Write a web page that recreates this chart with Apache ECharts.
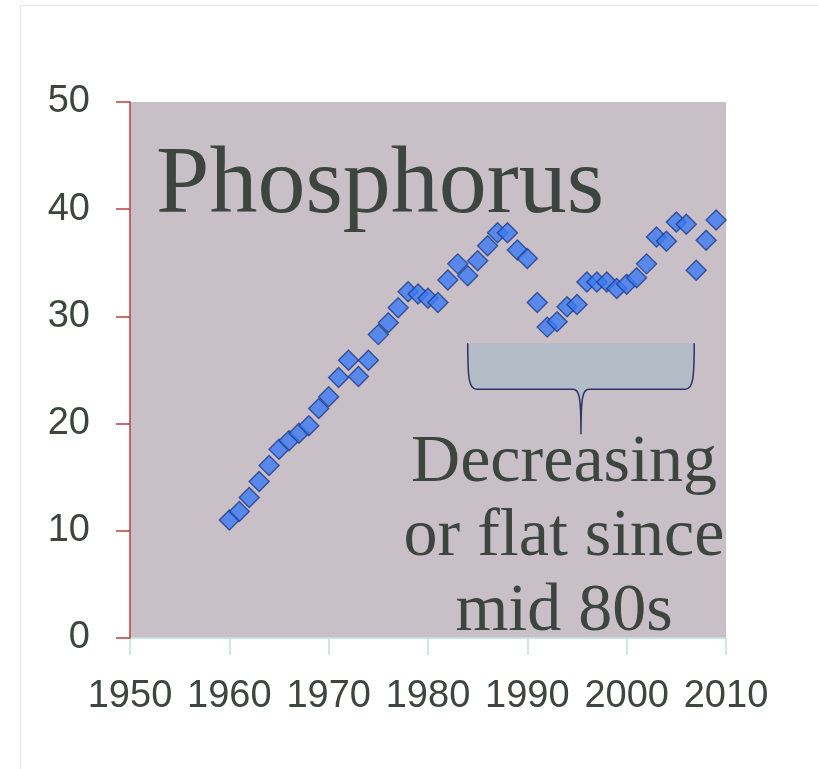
<!DOCTYPE html>
<html>
<head>
<meta charset="utf-8">
<script src="https://cdn.jsdelivr.net/npm/echarts@6/dist/echarts.min.js"></script>
<style>
  html, body { margin: 0; padding: 0; background: #fff; }
  #main { width: 818px; height: 769px; }
</style>
</head>
<body>
<div id="main"></div>
<script>
// yearly values
var years = [1960, 1961, 1962, 1963, 1964, 1965, 1966, 1967, 1968, 1969,
             1970, 1971, 1972, 1973, 1974, 1975, 1976, 1977, 1978, 1979,
             1980, 1981, 1982, 1983, 1984, 1985, 1986, 1987, 1988, 1989,
             1990, 1991, 1992, 1993, 1994, 1995, 1996, 1997, 1998, 1999,
             2000, 2001, 2002, 2003, 2004, 2005, 2006, 2007, 2008, 2009];
var phosphorus = [11.0, 11.8, 13.1, 14.6, 16.1, 17.6, 18.4, 19.1, 19.8, 21.4,
                  22.5, 24.3, 25.9, 24.4, 25.9, 28.3, 29.4, 30.8, 32.3, 32.1,
                  31.7, 31.3, 33.4, 34.9, 33.8, 35.2, 36.6, 37.8, 37.8, 36.2,
                  35.4, 31.3, 29.0, 29.5, 30.9, 31.1, 33.2, 33.2, 33.2, 32.6,
                  33.0, 33.6, 34.9, 37.4, 37.0, 38.8, 38.6, 34.3, 37.1, 39.0];
var xTicks = [1950, 2010, 10];
var yTicks = [0, 50, 10];
var titleText = 'Phosphorus';
var noteLines = ['Decreasing', 'or flat since', 'mid 80s'];
// brace under the late points: [x0, x1, top, boxBottom, tip]
var brace = [1984.0, 2006.8, 27.5, 23.2, 19.0];

var points = years.map(function (y, i) { return [y, phosphorus[i]]; });

var labelFont = '"Liberation Sans", Arial, sans-serif';
var serifFont = '"Liberation Serif", "Times New Roman", serif';
var textColor = '#3c463f';

function braceItem(params, api) {
  var tl = api.coord([api.value(0), api.value(2)]);
  var br = api.coord([api.value(1), api.value(3)]);
  var tp = api.coord([(api.value(0) + api.value(1)) / 2, api.value(4)]);
  var L = tl[0], R = br[0], T = tl[1], B = br[1], C = tp[0], P = tp[1];
  var d = 'M' + L + ' ' + T +
    ' C' + L + ' ' + (B - 12) + ' ' + (L + 1) + ' ' + B + ' ' + (L + 9) + ' ' + B +
    ' L' + (C - 8) + ' ' + B +
    ' C' + (C - 2) + ' ' + B + ' ' + C + ' ' + (B + 6) + ' ' + C + ' ' + P +
    ' C' + C + ' ' + (B + 6) + ' ' + (C + 2) + ' ' + B + ' ' + (C + 8) + ' ' + B +
    ' L' + (R - 9) + ' ' + B +
    ' C' + (R - 1) + ' ' + B + ' ' + R + ' ' + (B - 12) + ' ' + R + ' ' + T;
  return {
    type: 'group',
    children: [
      { type: 'path', shape: { pathData: d + ' Z' },
        style: { fill: '#b4bcc8', stroke: null } },
      { type: 'path', shape: { pathData: d },
        style: { fill: null, stroke: '#2b3566', lineWidth: 1.5 } }
    ]
  };
}

var chart = echarts.init(document.getElementById('main'));
chart.setOption({
  animation: false,
  backgroundColor: '#fff',
  grid: {
    left: 130, right: 92, top: 102, bottom: 131,
    show: true, backgroundColor: '#c9bfc7', borderWidth: 0
  },
  xAxis: {
    type: 'value', min: xTicks[0], max: xTicks[1], interval: xTicks[2],
    axisLine: { show: true, onZero: false, lineStyle: { color: '#bfe0e6', width: 1.5 } },
    axisTick: { show: true, length: 17, lineStyle: { color: '#bfe0e6', width: 1.5 } },
    axisLabel: { margin: 40, fontSize: 38, fontFamily: labelFont, color: textColor,
                 showMinLabel: true, showMaxLabel: true,
                 formatter: function (v) { return String(v); } },
    splitLine: { show: false }
  },
  yAxis: {
    type: 'value', min: yTicks[0], max: yTicks[1], interval: yTicks[2],
    z: 3,
    axisLine: { show: true, onZero: false, lineStyle: { color: '#bb3f44', width: 1.5 } },
    axisTick: { show: true, length: 14, lineStyle: { color: '#bb3f44', width: 1.5 } },
    axisLabel: { margin: 40, fontSize: 38, fontFamily: labelFont, color: textColor,
                 showMinLabel: true, showMaxLabel: true },
    splitLine: { show: false }
  },
  series: [{
    type: 'custom',
    renderItem: braceItem,
    data: [brace],
    silent: true,
    z: 1
  }, {
    type: 'scatter',
    data: points,
    symbol: 'diamond',
    symbolSize: 20,
    z: 5,
    itemStyle: { color: '#3b7af2', borderColor: '#1f3b8a', borderWidth: 1.4 }
  }]
});

var gx = chart.convertToPixel({ gridIndex: 0 }, [1950, 50])[0];
var noteX = 564;
var noteFont = '68px ' + serifFont;
chart.setOption({
  graphic: [
    { type: 'rect', z: -10, silent: true,
      shape: { x: 20.5, y: 5.5, width: 820, height: 800 },
      style: { fill: 'none', stroke: '#e6e6e6', lineWidth: 1 } },
    { type: 'text', z: 4, left: gx + 26, top: 139,
      style: { text: titleText, font: '96px ' + serifFont, fill: textColor } },
    { type: 'text', z: 4, x: noteX, y: 497,
      style: { text: noteLines[0], font: noteFont, fill: textColor,
               textAlign: 'center', textVerticalAlign: 'bottom' } },
    { type: 'text', z: 4, x: noteX, y: 571,
      style: { text: noteLines[1], font: noteFont, fill: textColor,
               textAlign: 'center', textVerticalAlign: 'bottom' } },
    { type: 'text', z: 4, x: noteX, y: 646,
      style: { text: noteLines[2], font: noteFont, fill: textColor,
               textAlign: 'center', textVerticalAlign: 'bottom' } }
  ]
});
</script>
</body>
</html>
